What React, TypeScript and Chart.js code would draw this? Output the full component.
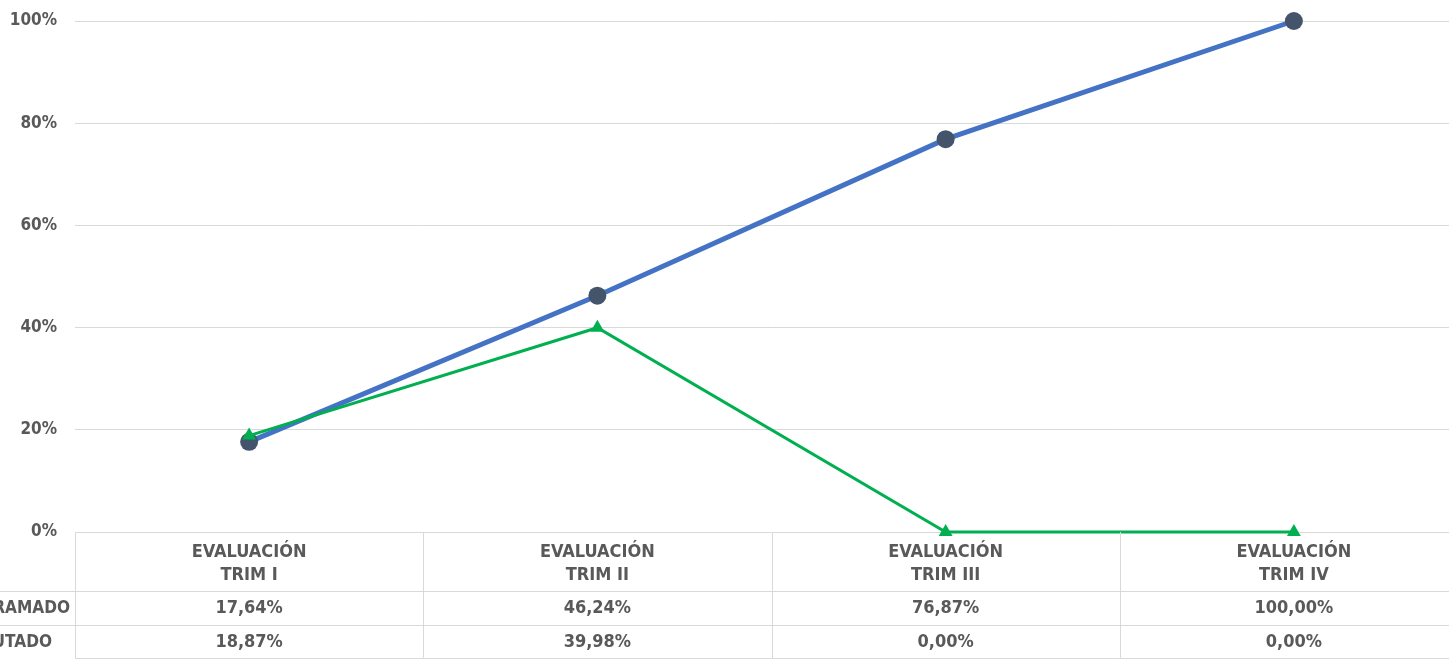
import React, { useEffect, useRef } from "react";
import { Chart, registerables } from "chart.js";

Chart.register(...registerables);

const categories: string[][] = [
  ["EVALUACIÓN", "TRIM I"],
  ["EVALUACIÓN", "TRIM II"],
  ["EVALUACIÓN", "TRIM III"],
  ["EVALUACIÓN", "TRIM IV"],
];
const programado: number[] = [17.64, 46.24, 76.87, 100];
const ejecutado: number[] = [18.87, 39.98, 0, 0];
const programadoLabels: string[] = ["17,64%", "46,24%", "76,87%", "100,00%"];
const ejecutadoLabels: string[] = ["18,87%", "39,98%", "0,00%", "0,00%"];
const seriesNames: string[] = ["PROGRAMADO", "EJECUTADO"];
const yTicks: number[] = [0, 20, 40, 60, 80, 100];

const FONT = "'DejaVu Sans Condensed', 'DejaVu Sans', sans-serif";
const TEXT = "#595959";
const GRID = "#d9d9d9";

const tablePlugin = {
  id: "dataTable",
  afterDraw(chart: any) {
    const { ctx, chartArea } = chart;
    const xs = chart.scales.x;
    const ys = chart.scales.y;
    const left = chartArea.left;
    const right = chartArea.right;
    const bottom = chartArea.bottom;
    const colW = (right - left) / categories.length;
    const r1 = bottom + 59;
    const r2 = bottom + 93;
    const r3 = bottom + 126;
    ctx.save();
    ctx.strokeStyle = GRID;
    ctx.lineWidth = 1;
    ctx.beginPath();
    for (let k = 0; k <= categories.length; k++) {
      const x = Math.round(left + k * colW) + 0.5;
      ctx.moveTo(x, bottom);
      ctx.lineTo(x, r3);
    }
    ctx.moveTo(0, r1 + 0.5);
    ctx.lineTo(right, r1 + 0.5);
    ctx.moveTo(0, r2 + 0.5);
    ctx.lineTo(right, r2 + 0.5);
    ctx.moveTo(left, r3 + 0.5);
    ctx.lineTo(right, r3 + 0.5);
    ctx.stroke();

    ctx.fillStyle = TEXT;
    ctx.font = `bold 17px ${FONT}`;
    ctx.textAlign = "right";
    ctx.textBaseline = "middle";
    yTicks.forEach((v) => {
      ctx.fillText(`${v}%`, left - 18, ys.getPixelForValue(v));
    });

    ctx.font = `bold 18px ${FONT}`;
    ctx.textAlign = "center";
    categories.forEach((lines, i) => {
      const cx = xs.getPixelForValue(i);
      ctx.fillText(lines[0], cx, bottom + 20);
      ctx.fillText(lines[1], cx, bottom + 43);
      ctx.fillText(programadoLabels[i], cx, bottom + 76);
      ctx.fillText(ejecutadoLabels[i], cx, bottom + 110);
    });
    // row labels (cut off on the left in the original)
    ctx.textAlign = "right";
    const sx = 0.95;
    ctx.save();
    ctx.scale(sx, 1);
    ctx.fillText(seriesNames[0], 70 / sx, bottom + 76);
    ctx.fillText(seriesNames[1], 52 / sx, bottom + 110);
    ctx.restore();
    ctx.restore();
  },
};

export default function App() {
  const ref = useRef<HTMLCanvasElement | null>(null);
  useEffect(() => {
    if (!ref.current) return;
    const chart = new Chart(ref.current, {
      type: "line",
      data: {
        labels: categories.map((c) => c.join(" ")),
        datasets: [
          {
            label: seriesNames[1],
            data: ejecutado,
            borderColor: "#00B050",
            backgroundColor: "#00B050",
            borderWidth: 3,
            pointStyle: "triangle",
            pointRadius: 8,
            pointBorderWidth: 0,
            pointBackgroundColor: "#00B050",
            order: 0,
            clip: false,
          },
          {
            label: seriesNames[0],
            data: programado,
            borderColor: "#4472C4",
            backgroundColor: "#44546A",
            borderWidth: 5,
            pointStyle: "circle",
            pointRadius: 9,
            pointBorderWidth: 0,
            pointBackgroundColor: "#44546A",
            order: 1,
            clip: false,
          },
        ],
      },
      options: {
        responsive: false,
        animation: false,
        layout: { padding: { top: 21, bottom: 131, left: 0, right: 3 } },
        plugins: { legend: { display: false }, tooltip: { enabled: false } },
        scales: {
          x: { type: "category", offset: true, display: false },
          y: {
            min: 0,
            max: 100,
            afterFit: (s: any) => {
              s.width = 75;
            },
            afterBuildTicks: (s: any) => {
              s.ticks = yTicks.map((v) => ({ value: v }));
            },
            border: { display: false },
            grid: { color: GRID, lineWidth: 1, drawTicks: false },
            ticks: { display: false },
          },
        },
      },
      plugins: [tablePlugin],
    });
    return () => chart.destroy();
  }, []);
  return (
    <div
      style={{
        position: "absolute",
        left: 0,
        top: 0,
        width: 1449,
        height: 663,
        overflow: "hidden",
        background: "#fff",
      }}
    >
      <canvas ref={ref} width={1477} height={663} style={{ width: 1477, height: 663 }} />
    </div>
  );
}
